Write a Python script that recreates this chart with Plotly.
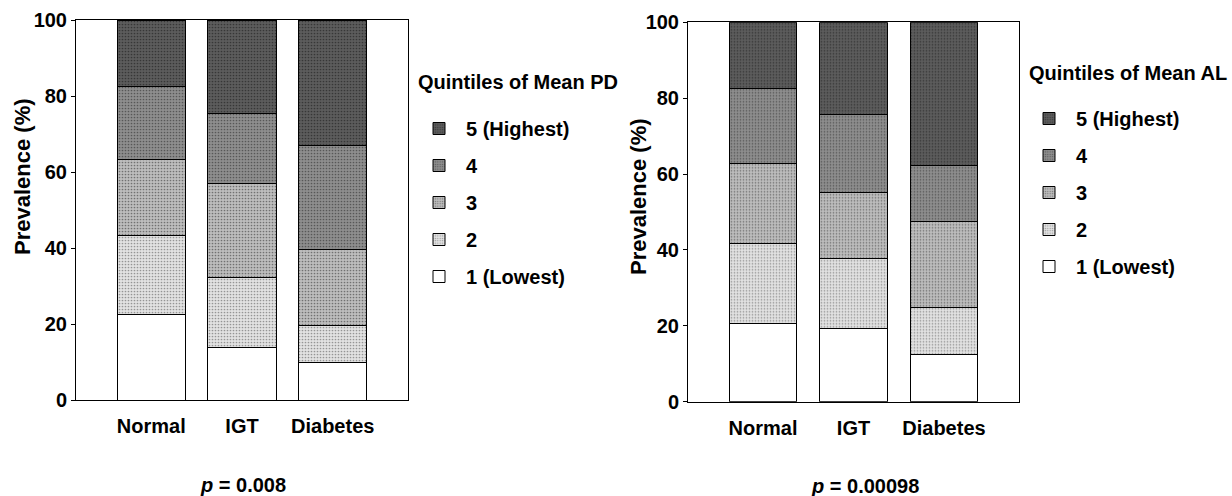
import plotly.graph_objects as go

W, H = 1232, 496

groups = ["Normal", "IGT", "Diabetes"]
quintile_names = ["1 (Lowest)", "2", "3", "4", "5 (Highest)"]

# Segment sizes (% of each group), quintile 1 .. 5
pd_q1 = [22.5, 13.7, 9.8]
pd_q2 = [20.9, 18.6, 9.8]
pd_q3 = [19.8, 24.8, 20.0]
pd_q4 = [19.2, 18.4, 27.4]
pd_q5 = [17.6, 24.5, 33.0]

al_q1 = [20.6, 19.4, 12.4]
al_q2 = [21.2, 18.3, 12.5]
al_q3 = [20.9, 17.5, 22.6]
al_q4 = [19.9, 20.6, 14.7]
al_q5 = [17.4, 24.2, 37.8]

y_ticks = [0, 20, 40, 60, 80, 100]
y_title = "Prevalence (%)"
p_left = "0.008"
p_right = "0.00098"

fills = ["#ffffff", "#e2e2e2", "#bdbdbd", "#8e8e8e", "#5c5c5c"]
dots = ["#ffffff", "#555555", "#333333", "#2a2a2a", "#1a1a1a"]

FONT = "Liberation Sans, Arial, Helvetica, sans-serif"
FS = 20

def px_x(v):
    return v / W

def px_y(v):
    return 1 - v / H

fig = go.Figure()

pd_series = [pd_q1, pd_q2, pd_q3, pd_q4, pd_q5]
al_series = [al_q1, al_q2, al_q3, al_q4, al_q5]

for panel, (series, xa, ya, leg) in enumerate([
        (pd_series, "x", "y", "legend"),
        (al_series, "x2", "y2", "legend2")]):
    for i, vals in enumerate(series):
        pattern = dict(shape="." if i > 0 else "", size=3, solidity=0.25,
                       fgcolor=dots[i], fgopacity=0.55)
        fig.add_trace(go.Bar(
            x=groups, y=vals, name=quintile_names[i],
            xaxis=xa, yaxis=ya, legend=leg,
            legendgroup=f"{leg}_{i}",
            legendrank=100 - 10 * i,
            width=0.75,
            marker=dict(color=fills[i], line=dict(color="black", width=1),
                        pattern=pattern),
            hovertemplate="%{x}: %{y}%<extra>" + quintile_names[i] + "</extra>",
        ))

axis_common = dict(showline=True, linecolor="black", linewidth=1, mirror=True,
                   showgrid=False, zeroline=False, automargin=False)
font_b = dict(family=FONT, size=FS, color="black", weight="bold")
font_t = dict(family=FONT, size=22, color="black", weight="bold")

xcommon = dict(axis_common, type="category", range=[-0.83, 2.83], ticks="",
               tickfont=font_b, ticklabelstandoff=8, categoryorder="array",
               categoryarray=groups)
ycommon = dict(axis_common, range=[0, 100], tickvals=y_ticks, ticks="outside",
               ticklen=4, tickcolor="black", tickfont=font_b)

fig.update_layout(
    width=W, height=H, autosize=False,
    margin=dict(l=0, r=0, t=0, b=0, autoexpand=False),
    paper_bgcolor="white", plot_bgcolor="white",
    barmode="stack",
    font=dict(family=FONT, size=FS, color="black"),
    xaxis=dict(xcommon, domain=[px_x(76), px_x(408)], anchor="y"),
    yaxis=dict(ycommon, domain=[px_y(400), px_y(20)], anchor="x"),
    xaxis2=dict(xcommon, domain=[px_x(688), px_x(1019)], anchor="y2"),
    yaxis2=dict(ycommon, domain=[px_y(401.7), px_y(22.3)], anchor="x2"),
    legend=dict(x=px_x(412), y=px_y(109), xanchor="left", yanchor="top",
                tracegroupgap=8, itemwidth=44,
                font=font_b, bgcolor="rgba(0,0,0,0)"),
    legend2=dict(x=px_x(1022), y=px_y(99), xanchor="left", yanchor="top",
                 tracegroupgap=8, itemwidth=44,
                 font=font_b, bgcolor="rgba(0,0,0,0)"),
    annotations=[
        dict(text=y_title, x=px_x(22), y=px_y(177), textangle=-90,
             xref="paper", yref="paper", xanchor="center", yanchor="middle",
             showarrow=False, font=font_t),
        dict(text=y_title, x=px_x(638), y=px_y(197), textangle=-90,
             xref="paper", yref="paper", xanchor="center", yanchor="middle",
             showarrow=False, font=font_t),
        dict(text="Quintiles of Mean PD", x=px_x(416), y=px_y(82),
             xref="paper", yref="paper", xanchor="left", yanchor="middle",
             showarrow=False, font=font_b),
        dict(text="Quintiles of Mean AL", x=px_x(1027), y=px_y(73),
             xref="paper", yref="paper", xanchor="left", yanchor="middle",
             showarrow=False, font=font_b),
        dict(text="<i>p</i> = " + p_left, x=px_x(243), y=px_y(485),
             xref="paper", yref="paper", xanchor="center", yanchor="middle",
             showarrow=False, font=font_b),
        dict(text="<i>p</i> = " + p_right, x=px_x(865), y=px_y(486),
             xref="paper", yref="paper", xanchor="center", yanchor="middle",
             showarrow=False, font=font_b),
    ],
    showlegend=True,
)

fig.write_html("out.html")
